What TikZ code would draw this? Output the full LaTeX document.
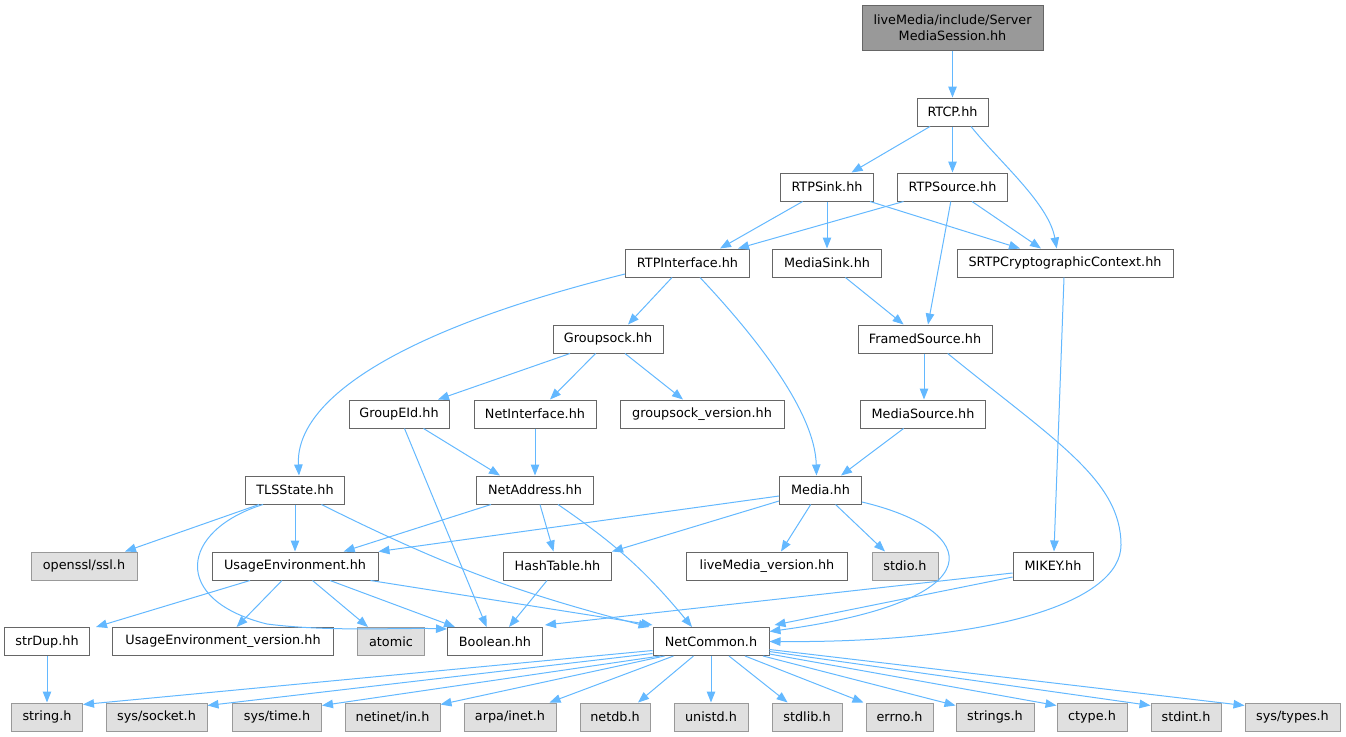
\documentclass[tikz,border=0pt]{standalone}
\usepackage{fontspec}
\setmainfont{DejaVu Sans}
\usetikzlibrary{arrows.meta}
\definecolor{edgec}{HTML}{63B8FF}
\definecolor{bord}{HTML}{666666}
\definecolor{gbord}{HTML}{999999}
\definecolor{gfill}{HTML}{E0E0E0}
\definecolor{topfill}{HTML}{999999}
\tikzset{
  box/.style={draw=bord, fill=white, line width=1pt, minimum height=28pt, inner sep=0pt, font=\fontsize{12.8}{16.5}\selectfont},
  gbox/.style={box, draw=gbord, fill=gfill},
  edge/.style={draw=edgec, line width=1pt, -{Triangle[length=11pt,width=8.5pt]}}
}
\begin{document}
\begin{tikzpicture}[x=1pt,y=-1pt]
\useasboundingbox (0,0) rectangle (1346,736);
% nodes
\node[box, fill=topfill, minimum width=181pt, minimum height=45pt, align=center] (top) at (952.5,27.5) {liveMedia/include/Server\\MediaSession.hh};
\node[box, minimum width=71pt] (rtcp) at (952.5,112) {RTCP.hh};
\node[box, minimum width=93pt] (rtpsink) at (827,187) {RTPSink.hh};
\node[box, minimum width=110pt] (rtpsource) at (952.5,187) {RTPSource.hh};
\node[box, minimum width=124pt] (rtpif) at (687.5,263) {RTPInterface.hh};
\node[box, minimum width=109pt] (mediasink) at (827,263) {MediaSink.hh};
\node[box, minimum width=216pt] (srtp) at (1065,263) {SRTPCryptographicContext.hh};
\node[box, minimum width=110pt] (groupsock) at (608,339) {Groupsock.hh};
\node[box, minimum width=134pt] (framed) at (925,339) {FramedSource.hh};
\node[box, minimum width=100pt] (groupeid) at (399,414) {GroupEId.hh};
\node[box, minimum width=122pt] (netif) at (535,414) {NetInterface.hh};
\node[box, minimum width=164pt] (gsver) at (702,414) {groupsock\_version.hh};
\node[box, minimum width=125pt] (mediasrc) at (923,414) {MediaSource.hh};
\node[box, minimum width=99pt] (tls) at (295,490) {TLSState.hh};
\node[box, minimum width=117pt] (netaddr) at (535,490) {NetAddress.hh};
\node[box, minimum width=82pt] (media) at (820.5,490) {Media.hh};
\node[gbox, minimum width=106pt] (openssl) at (84,566) {openssl/ssl.h};
\node[box, minimum width=166pt] (usage) at (295,566) {UsageEnvironment.hh};
\node[box, minimum width=108pt] (hash) at (557.5,566) {HashTable.hh};
\node[box, minimum width=161pt] (lmver) at (767,566) {liveMedia\_version.hh};
\node[gbox, minimum width=66pt] (stdio) at (905,566) {stdio.h};
\node[box, minimum width=80pt] (mikey) at (1053,566) {MIKEY.hh};
\node[box, minimum width=85pt] (strdup) at (47,641.5) {strDup.hh};
\node[box, minimum width=221pt] (uever) at (223,641.5) {UsageEnvironment\_version.hh};
\node[gbox, minimum width=67pt] (atomic) at (391,641.5) {atomic};
\node[box, minimum width=95pt] (boolean) at (495,641.5) {Boolean.hh};
\node[box, minimum width=116pt] (netcommon) at (711,641.5) {NetCommon.h};
\node[gbox, minimum width=71pt] (stringh) at (47,717) {string.h};
\node[gbox, minimum width=101pt] (syssocket) at (156.5,717) {sys/socket.h};
\node[gbox, minimum width=89pt] (systime) at (277,717) {sys/time.h};
\node[gbox, minimum width=95pt] (netinet) at (392.5,717) {netinet/in.h};
\node[gbox, minimum width=92pt] (arpa) at (510,717) {arpa/inet.h};
\node[gbox, minimum width=70pt] (netdb) at (615,717) {netdb.h};
\node[gbox, minimum width=74pt] (unistd) at (711,717) {unistd.h};
\node[gbox, minimum width=70pt] (stdlib) at (807,717) {stdlib.h};
\node[gbox, minimum width=67pt] (errno) at (899.5,717) {errno.h};
\node[gbox, minimum width=78pt] (strings) at (995,717) {strings.h};
\node[gbox, minimum width=70pt] (ctype) at (1092,717) {ctype.h};
\node[gbox, minimum width=70pt] (stdint) at (1186,717) {stdint.h};
\node[gbox, minimum width=95pt] (systypes) at (1292.5,717) {sys/types.h};
\coordinate (wb) at (267,624);
\coordinate (wf) at (1121,545);
% edges
\draw[edge] (top.south) -- (rtcp.north);
\draw[edge] ([xshift=-22.5pt]rtcp.south) -- ([xshift=24.5pt]rtpsink.north);
\draw[edge] (rtcp.south) -- (rtpsource.north);
\draw[edge] ([xshift=18.5pt]rtcp.south) .. controls +(28,35) and +(-8,-45) .. ([xshift=-8.3pt]srtp.north);
\draw[edge] ([xshift=-24.4pt]rtpsink.south) -- ([xshift=32.5pt]rtpif.north);
\draw[edge] (rtpsink.south) -- (mediasink.north);
\draw[edge] ([xshift=43pt]rtpsink.south) -- ([xshift=-45pt]srtp.north);
\draw[edge] ([xshift=-49pt]rtpsource.south) -- ([xshift=50.5pt]rtpif.north);
\draw[edge] ([xshift=19.5pt]rtpsource.south) -- ([xshift=-24pt]srtp.north);
\draw[edge] ([xshift=-1.7pt]rtpsource.south) -- ([xshift=3pt]framed.north);
\draw[edge] ([xshift=-15.5pt]rtpif.south) -- ([xshift=20pt]groupsock.north);
\draw[edge] ([yshift=-11pt]rtpif.west) .. controls +(-225.5,56) and +(-4,-76) .. ([xshift=4pt]tls.north);
\draw[edge] ([xshift=12.5pt]rtpif.south) .. controls +(50,53) and +(-1.5,-66) .. ([xshift=-4pt]media.north);
\draw[edge] ([xshift=18.4pt]mediasink.south) -- ([xshift=-21.4pt]framed.north);
\draw[edge] ([xshift=-1pt]srtp.south) -- ([xshift=1pt]mikey.north);
\draw[edge] ([xshift=-38pt]groupsock.south) -- ([xshift=39pt]groupeid.north);
\draw[edge] ([xshift=-12.4pt]groupsock.south) -- ([xshift=15pt]netif.north);
\draw[edge] ([xshift=17pt]groupsock.south) -- ([xshift=-19pt]gsver.north);
\draw[edge] ([xshift=-1pt]framed.south) -- ([xshift=1pt]mediasrc.north);
\draw[edge] ([xshift=22.7pt]framed.south) .. controls +(107,87) and +(0,-65) .. (wf) .. controls +(0,55) and +(231,1.5) .. (netcommon.east);
\draw[edge] ([xshift=-19.4pt]mediasrc.south) -- ([xshift=20.5pt]media.north);
\draw[edge] ([xshift=24.5pt]groupeid.south) -- ([xshift=-35pt]netaddr.north);
\draw[edge] ([xshift=5.5pt]groupeid.south) -- ([xshift=-8.4pt]boolean.north);
\draw[edge] (netif.south) -- (netaddr.north);
\draw[edge] ([xshift=-36pt]tls.south) -- ([xshift=41pt]openssl.north);
\draw[edge] (tls.south) -- (usage.north);
\draw[edge] ([xshift=-32pt]tls.south) .. controls +(-83,26) and +(-97,-24) .. (wb) .. controls +(63,8) and +(-47,-1.5) .. ([yshift=-2pt]boolean.north west);
\draw[edge] ([xshift=26.4pt]tls.south) to[bend right=6] ([xshift=-3pt]netcommon.north west);
\draw[edge] ([xshift=-44pt]netaddr.south) -- ([xshift=48.7pt]usage.north);
\draw[edge] ([xshift=5pt]netaddr.south) -- ([xshift=-4pt]hash.north);
\draw[edge] ([xshift=23pt]netaddr.south) to[bend left=8] ([xshift=-19pt]netcommon.north);
\draw[edge] ([yshift=-6pt]media.west) -- (usage.north east);
\draw[edge] ([yshift=-11pt]media.west) -- (hash.north east);
\draw[edge] ([xshift=-9.8pt]media.south) -- ([xshift=14pt]lmver.north);
\draw[edge] ([xshift=15pt]media.south) -- ([xshift=-20pt]stdio.north);
\draw[edge] ([yshift=-12pt]media.east) .. controls +(118.5,28) and +(231,-31.5) .. ([yshift=10pt]netcommon.east);
\draw[edge] ([xshift=-45pt]usage.south) -- ([xshift=49pt]strdup.north);
\draw[edge] ([xshift=-13pt]usage.south) -- ([xshift=13.6pt]uever.north);
\draw[edge] ([xshift=17.5pt]usage.south) -- ([xshift=-23pt]atomic.north);
\draw[edge] ([xshift=35pt]usage.south) -- ([xshift=-40pt]boolean.north);
\draw[edge] ([xshift=75.5pt]usage.south) -- ([yshift=2pt]netcommon.north west);
\draw[edge] ([xshift=-10.5pt]hash.south) -- ([xshift=14pt]boolean.north);
\draw[edge] ([yshift=-7pt]mikey.west) -- ([xshift=2pt,yshift=2pt]boolean.north east);
\draw[edge] ([yshift=-11pt]mikey.west) -- ([xshift=5pt,yshift=2pt]netcommon.north east);
\draw[edge] (strdup.south) -- (stringh.north);
\draw[edge] ([yshift=-9pt]netcommon.west) -- ([yshift=-2pt]stringh.north east);
\draw[edge] ([yshift=-12pt]netcommon.west) -- ([yshift=-3pt]syssocket.north east);
\draw[edge] ([xshift=7.7pt]netcommon.south west) -- ([yshift=-3pt]systime.north east);
\draw[edge] ([xshift=12pt]netcommon.south west) -- ([yshift=-2pt]netinet.north east);
\draw[edge] ([xshift=21pt]netcommon.south west) -- ([xshift=-7pt]arpa.north east);
\draw[edge] ([xshift=41pt]netcommon.south west) -- ([xshift=23pt]netdb.north);
\draw[edge] (netcommon.south) -- (unistd.north);
\draw[edge] ([xshift=18pt]netcommon.south) -- ([xshift=-19.4pt]stdlib.north);
\draw[edge] ([xshift=34pt]netcommon.south) -- ([xshift=-36pt]errno.north);
\draw[edge] ([xshift=52pt]netcommon.south) -- ([yshift=-3pt]strings.north west);
\draw[edge] ([yshift=-12.5pt]netcommon.east) -- ([yshift=-3pt]ctype.north west);
\draw[edge] ([yshift=-10pt]netcommon.east) -- ([yshift=-3pt]stdint.north west);
\draw[edge] ([yshift=-8pt]netcommon.east) -- ([yshift=-3pt]systypes.north west);
\end{tikzpicture}
\end{document}
